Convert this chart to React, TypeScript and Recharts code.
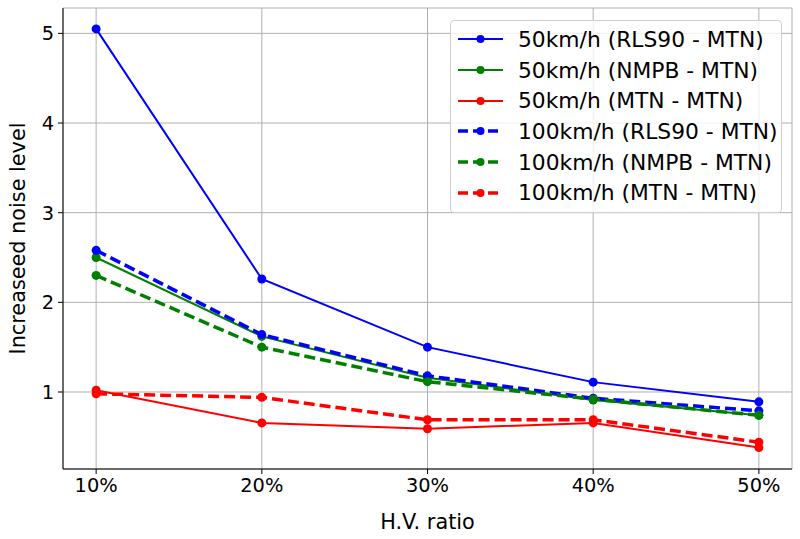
import React from "react";
import {
  LineChart,
  Line,
  XAxis,
  YAxis,
  CartesianGrid,
} from "recharts";

const ratios = ["10%", "20%", "30%", "40%", "50%"];

const rls90At50 = [5.05, 2.26, 1.5, 1.11, 0.89];
const nmpbAt50 = [2.5, 1.62, 1.16, 0.91, 0.74];
const mtnAt50 = [1.02, 0.655, 0.59, 0.655, 0.38];
const rls90At100 = [2.58, 1.64, 1.18, 0.93, 0.79];
const nmpbAt100 = [2.3, 1.5, 1.115, 0.92, 0.74];
const mtnAt100 = [0.98, 0.94, 0.69, 0.69, 0.44];

const yTicks = [1, 2, 3, 4, 5];

const series = [
  { key: "rls50", name: "50km/h (RLS90 - MTN)", color: "#0000ff", dashed: false },
  { key: "nmpb50", name: "50km/h (NMPB - MTN)", color: "#008000", dashed: false },
  { key: "mtn50", name: "50km/h (MTN - MTN)", color: "#ff0000", dashed: false },
  { key: "rls100", name: "100km/h (RLS90 - MTN)", color: "#0000ff", dashed: true },
  { key: "nmpb100", name: "100km/h (NMPB - MTN)", color: "#008000", dashed: true },
  { key: "mtn100", name: "100km/h (MTN - MTN)", color: "#ff0000", dashed: true },
];

const data = ratios.map((r, i) => ({
  x: i,
  rls50: rls90At50[i],
  nmpb50: nmpbAt50[i],
  mtn50: mtnAt50[i],
  rls100: rls90At100[i],
  nmpb100: nmpbAt100[i],
  mtn100: mtnAt100[i],
}));

const font = "'DejaVu Sans', sans-serif";

function LegendBox() {
  return (
    <div
      style={{
        position: "absolute",
        left: 450,
        top: 20,
        width: 332,
        boxSizing: "border-box",
        border: "1px solid #d0d0d0",
        borderRadius: 4,
        background: "rgba(255,255,255,0.8)",
        padding: "3px 0 4px 0",
        fontFamily: font,
        fontSize: 21.8,
        color: "#000",
      }}
    >
      {series.map((s) => (
        <div
          key={s.key}
          style={{ display: "flex", alignItems: "center", height: 30.7 }}
        >
          <svg width={62} height={20} style={{ marginLeft: 5, flexShrink: 0 }}>
            <line
              x1={2}
              x2={47}
              y1={10}
              y2={10}
              stroke={s.color}
              strokeWidth={s.dashed ? 3.5 : 2}
              strokeDasharray={s.dashed ? "10 5" : undefined}
            />
            <circle cx={24.5} cy={10} r={4} fill={s.color} />
          </svg>
          <span style={{ whiteSpace: "nowrap" }}>{s.name}</span>
        </div>
      ))}
    </div>
  );
}

export default function App() {
  return (
    <div style={{ position: "absolute", left: 0, top: 0, width: 800, height: 539 }}>
      <LineChart
        width={800}
        height={539}
        data={data}
        margin={{ top: 8, right: 8, bottom: 0, left: 0 }}
        style={{ fontFamily: font }}
      >
        <CartesianGrid stroke="#b0b0b0" strokeWidth={1} />
        <XAxis
          dataKey="x"
          type="number"
          domain={[-0.2, 4.2]}
          ticks={[0, 1, 2, 3, 4]}
          tickFormatter={(v: number) => ratios[v]}
          height={70}
          stroke="#000"
          tickSize={5}
          tick={{ fill: "#000", fontSize: 19.4 }}
          tickMargin={4}
          label={{
            value: "H.V. ratio",
            position: "insideBottom",
            offset: 10,
            fill: "#000",
            fontSize: 20.8,
          }}
        />
        <XAxis
          xAxisId="top"
          dataKey="x"
          type="number"
          domain={[-0.2, 4.2]}
          orientation="top"
          height={0}
          tick={false}
          tickLine={false}
          stroke="#000"
        />
        <YAxis
          type="number"
          domain={[0.141, 5.283]}
          ticks={yTicks}
          width={63}
          stroke="#000"
          tickSize={5}
          tick={{ fill: "#000", fontSize: 19.4 }}
          tickMargin={4}
          allowDataOverflow
          label={{
            value: "Increaseed noise level",
            angle: -90,
            position: "insideLeft",
            offset: 0,
            dx: 18,
            fill: "#000",
            fontSize: 20.8,
            style: { textAnchor: "middle" },
          }}
        />
        <YAxis
          yAxisId="right"
          orientation="right"
          width={0}
          tick={false}
          tickLine={false}
          stroke="#000"
        />
        {series.map((s) => (
          <Line
            key={s.key}
            dataKey={s.key}
            name={s.name}
            type="linear"
            stroke={s.color}
            strokeWidth={s.dashed ? 3.5 : 2}
            strokeDasharray={s.dashed ? "11 5" : undefined}
            dot={{ r: 4.5, fill: s.color, stroke: s.color, strokeWidth: 0 }}
            activeDot={false}
            isAnimationActive={false}
          />
        ))}
      </LineChart>
      <LegendBox />
    </div>
  );
}
